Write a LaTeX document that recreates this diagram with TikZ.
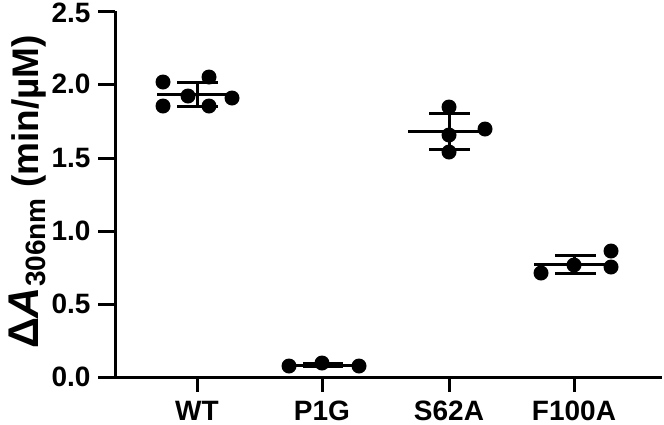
\documentclass[tikz,border=0pt]{standalone}
\usepackage{fontspec}
\setmainfont{Liberation Sans}
\begin{document}
\begin{tikzpicture}[x=1pt,y=-1pt,line width=3pt,
  dot/.style={circle,fill=black,inner sep=0pt,minimum size=15pt},
  tk/.style={font=\fontsize{28}{28}\bfseries\selectfont}]
\useasboundingbox (0,0) rectangle (664,424);
% axes
\coordinate (o) at (115,377);
\coordinate (top) at (115,11);
\coordinate (xe) at (662,377);
\draw (top) -- (o) -- (xe);
\foreach \v/\y/\ly in {0.0/377/377,0.5/304/304,1.0/231/231,1.5/158/158,2.0/84/84,2.5/11/13}{
  \draw (98,\y) -- (115,\y);
  \node[tk,anchor=east,inner sep=0pt] (yl\y) at (92,\ly) {\v};
}
\foreach \n/\x in {WT/197,P1G/322,S62A/449,F100A/574}{
  \draw (\x,377) -- (\x,392);
  \node[tk,inner sep=0pt,anchor=south] (xl\n) at (\x,422) {\n};
}
% y label
\node[rotate=90,inner sep=0pt] (ylab) at (28,192)
 {\fontsize{43}{43}\bfseries\selectfont Δ\textit{A}\raisebox{-0.15em}{\fontsize{28}{28}\selectfont 306nm}\fontsize{37}{37}\selectfont\ (min/µM)};
% WT
\draw (157,94) -- (233,94);
\draw (197,82) -- (197,106); \draw (177,82) -- (218,82); \draw (177,106) -- (218,106);
\foreach \p in {(163,82),(163,106),(188,96),(209,77),(209,106),(232,98)} \node[dot] at \p {};
% P1G
\draw (289,365) -- (359,365);
\draw[line width=6pt] (303,365) -- (343,365);
\foreach \p in {(289,366),(322,363),(359,366)} \node[dot] at \p {};
% S62A
\draw (408,131) -- (490,131);
\draw (449,113) -- (449,149); \draw (429,113) -- (470,113); \draw (429,149) -- (470,149);
\foreach \p in {(449,107),(449,135),(449,152),(485,129)} \node[dot] at \p {};
% F100A
\draw (534,264) -- (612,264);
\draw (574,255) -- (574,273); \draw (555,255) -- (596,255); \draw (555,273) -- (596,273);
\foreach \p in {(541,273),(574,265),(611,251),(611,267)} \node[dot] at \p {};
\end{tikzpicture}
\end{document}
